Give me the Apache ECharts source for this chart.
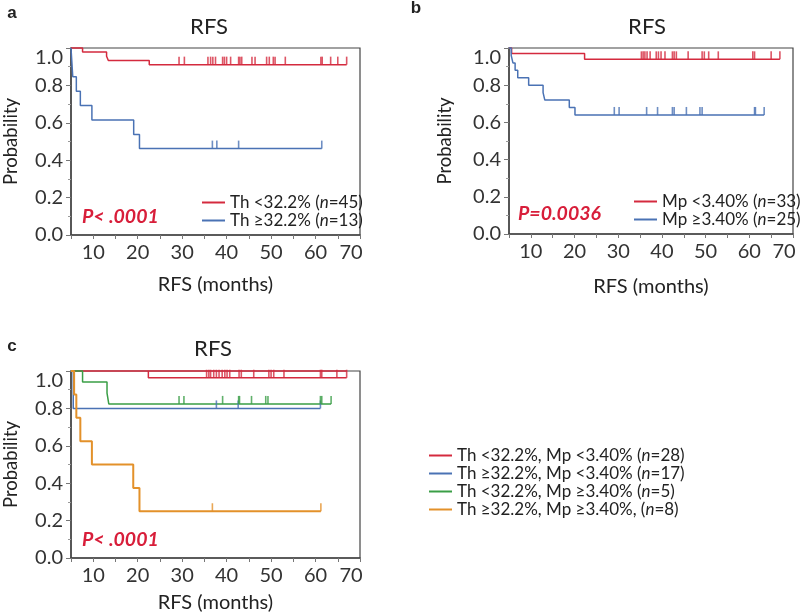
<!DOCTYPE html>
<html><head><meta charset="utf-8">
<script src="https://cdn.jsdelivr.net/npm/echarts@6/dist/echarts.min.js"></script>
<style>html,body{margin:0;padding:0;background:#fff}#c{width:800px;height:615px}</style>
</head><body><div id="c"></div>
<script>
// ---------- DATA ----------
const yTicks = [0, 0.2, 0.4, 0.6, 0.8, 1.0];
const xTickLabels = [10, 20, 30, 40, 50, 60, 70];

// Panel a: Th groups
const aNames = ['Th <32.2% (n=45)', 'Th \u226532.2% (n=13)'];
const aLowT = [5, 7.6, 13.0, 13.4, 22.6, 67.0];
const aLowS = [1, 0.978, 0.956, 0.933, 0.911, 0.911];
const aLowCens = [29.3, 30.5, 35.8, 36.4, 36.9, 37.5, 39.1, 39.5, 40.0, 40.9, 42.7, 43.0, 43.4, 45.7, 46.4, 49.0, 49.6, 50.5, 50.9, 53.2, 61.2, 61.5, 63.4, 65.0, 67.0];
const aHighT = [5, 5.4, 6.2, 7.1, 9.7, 19.1, 20.4, 61.4];
const aHighS = [1, 0.846, 0.769, 0.692, 0.615, 0.538, 0.462, 0.462];
const aHighCens = [36.8, 37.8, 42.7, 61.4];

// Panel b: Mp groups
const bNames = ['Mp <3.40% (n=33)', 'Mp \u22653.40% (n=25)'];
const bLowT = [5, 5.6, 22.3, 67.0];
const bLowS = [1, 0.970, 0.939, 0.939];
const bLowCens = [35.3, 35.7, 36.1, 36.6, 37.3, 38.7, 39.2, 39.8, 40.7, 42.4, 42.8, 43.3, 46.0, 49.2, 49.7, 50.7, 52.9, 60.8, 61.2, 65.0, 67.0];
const bHighT = [5, 5.5, 5.9, 6.4, 7.0, 9.5, 12.8, 13.2, 18.8, 20.1, 63.4];
const bHighS = [1, 0.96, 0.92, 0.88, 0.84, 0.80, 0.76, 0.72, 0.68, 0.64, 0.64];
const bHighCens = [29.1, 30.2, 36.5, 39.0, 42.4, 42.8, 45.6, 48.7, 49.2, 61.2, 61.4, 63.4];

// Panel c: combined groups
const cNames = ['Th <32.2%, Mp <3.40% (n=28)', 'Th \u226532.2%, Mp <3.40% (n=17)', 'Th <32.2%, Mp \u22653.40% (n=5)', 'Th \u226532.2%, Mp \u22653.40%, (n=8)'];
const cRedT = [5, 22.4, 67.0];
const cRedS = [1, 0.964, 0.964];
const cRedTopT = [22.4, 67.0];
const cRedTopS = [1, 1];
const cRedCens = [35.5, 36.0, 36.4, 37.1, 37.7, 38.3, 39.0, 39.6, 40.1, 40.7, 42.8, 43.3, 46.1, 49.5, 50.0, 50.6, 52.9, 61.1, 61.4, 64.8, 67.0];
const cBlueT = [5, 5.5, 61.1];
const cBlueS = [1, 0.8, 0.8];
const cBlueCens = [37.7, 42.6, 61.1];
const cGreenT = [5, 7.6, 13.1, 13.5, 63.5];
const cGreenS = [1, 0.941, 0.882, 0.824, 0.824];
const cGreenCens = [29.3, 30.4, 39.1, 42.7, 42.9, 45.6, 48.8, 49.3, 61.1, 61.4, 63.5];
const cOrangeT = [5, 5.7, 6.2, 7.1, 9.7, 19.0, 20.4, 61.2];
const cOrangeS = [1, 0.875, 0.75, 0.625, 0.5, 0.375, 0.25, 0.25];
const cOrangeCens = [36.8, 61.2];

const pTexts = ['P< .0001', 'P=0.0036', 'P< .0001'];

// ---------- STYLE ----------
const FONT = 'Lato, "Open Sans", sans-serif';
const RED = '#d42a3e', BLUE = '#4a72b4', GREEN = '#3a9e46', ORANGE = '#e3912a', PRED = '#d81e3a';
const TXT = '#222';

function survAt(T, S, t) {
  let v = S[0];
  for (let i = 0; i < T.length; i++) { if (T[i] <= t + 1e-9) v = S[i]; }
  return v;
}
function km(name, T, S, color, gi, lw) {
  return { type: 'line', name: name, xAxisIndex: gi, yAxisIndex: gi,
    data: T.map((t, i) => [t, S[i]]), step: 'end', symbol: 'none', showSymbol: false,
    lineStyle: { color: color, width: lw || 1.5 }, itemStyle: { color: color },
    clip: false, animation: false, z: 3 };
}
function cens(T, S, C, color, gi) {
  return { type: 'scatter', xAxisIndex: gi, yAxisIndex: gi,
    data: C.map(t => [t, survAt(T, S, t)]), symbol: 'rect', symbolSize: [1.6, 8], symbolOffset: [0, -4],
    itemStyle: { color: color }, silent: true, clip: false, animation: false, z: 3 };
}

const grids = [
  { left: 71, top: 48, width: 289, height: 187 },
  { left: 509, top: 48, width: 284, height: 186 },
  { left: 71, top: 371, width: 289, height: 187 }
];
const yGaps = [50, 54, 50];
const xGaps = [40, 43, 35];

function xAxis(i) {
  return { type: 'value', gridIndex: i, min: 5, max: 70, interval: 5,
    name: 'RFS (months)', nameLocation: 'middle', nameGap: xGaps[i],
    nameTextStyle: { fontFamily: FONT, fontSize: 20, color: TXT },
    axisLine: { show: true, lineStyle: { color: '#444', width: 1.5 } },
    axisTick: { show: true, length: 4, lineStyle: { color: '#777' } },
    splitLine: { show: false },
    axisLabel: { margin: 8, fontFamily: FONT, fontSize: 20, color: '#333',
      formatter: v => xTickLabels.indexOf(v) < 0 ? '' : (v === 70 ? '{last|70}' : String(v)),
      rich: { last: { fontFamily: FONT, fontSize: 20, color: '#333', padding: [0, 18, 0, 0] } } } };
}
function yAxis(i) {
  return { type: 'value', gridIndex: i, min: 0, max: 1, interval: 0.2,
    name: 'Probability', nameLocation: 'middle', nameGap: yGaps[i],
    nameTextStyle: { fontFamily: FONT, fontSize: 18.5, color: TXT },
    axisLine: { show: true, lineStyle: { color: '#444', width: 1.5 } },
    axisTick: { show: true, length: 5, lineStyle: { color: '#777' } },
    minorTick: { show: true, splitNumber: 2, length: 3, lineStyle: { color: '#999' } },
    splitLine: { show: false },
    axisLabel: { margin: 8, fontFamily: FONT, fontSize: 20, color: '#333',
      formatter: v => { const s = v.toFixed(1); return Math.abs(v - 1) < 1e-9 ? '{top|' + s + '}' : s; },
      rich: { top: { fontFamily: FONT, fontSize: 20, color: '#333', padding: [20, 0, 0, 0] } } } };
}

function legend(names, left, top) {
  return { data: names, left: left, top: top, orient: 'vertical', icon: 'rect',
    itemWidth: 23, itemHeight: 2, itemGap: 1, selectedMode: false, padding: 0,
    formatter: n => n.replace('n=', '{i|n}='),
    textStyle: { fontFamily: FONT, fontSize: 17, color: TXT,
      rich: { i: { fontFamily: FONT, fontSize: 17, color: TXT, fontStyle: 'italic' } } } };
}

const series = [
  km(aNames[0], aLowT, aLowS, RED, 0), cens(aLowT, aLowS, aLowCens, RED, 0),
  km(aNames[1], aHighT, aHighS, BLUE, 0), cens(aHighT, aHighS, aHighCens, BLUE, 0),
  km(bNames[0], bLowT, bLowS, RED, 1), cens(bLowT, bLowS, bLowCens, RED, 1),
  km(bNames[1], bHighT, bHighS, BLUE, 1), cens(bHighT, bHighS, bHighCens, BLUE, 1),
  km(cNames[0], cRedT, cRedS, RED, 2), cens(cRedT, cRedS, cRedCens, RED, 2),
  Object.assign(km('cRedTop', cRedTopT, cRedTopS, RED, 2), { step: false }),
  km(cNames[1], cBlueT, cBlueS, BLUE, 2), cens(cBlueT, cBlueS, cBlueCens, BLUE, 2),
  km(cNames[2], cGreenT, cGreenS, GREEN, 2), cens(cGreenT, cGreenS, cGreenCens, GREEN, 2),
  km(cNames[3], cOrangeT, cOrangeS, ORANGE, 2, 2), cens(cOrangeT, cOrangeS, cOrangeCens, ORANGE, 2)
];

function txt(x, y, text, size, opts) {
  return { type: 'text', x: x, y: y, z: 10, style: Object.assign({ text: text, fontFamily: FONT, fontSize: size,
    fill: TXT, textAlign: 'center', textVerticalAlign: 'middle' }, opts || {}) };
}

const chart = echarts.init(document.getElementById('c'), null, { renderer: 'canvas' });
chart.setOption({
  animation: false,
  backgroundColor: '#fff',
  grid: grids.map(g => Object.assign({ show: true, borderColor: '#444', borderWidth: 1.2, backgroundColor: 'transparent' }, g)),
  xAxis: [0, 1, 2].map(xAxis),
  yAxis: [0, 1, 2].map(yAxis),
  legend: [legend(aNames, 202, 194), legend(bNames, 634, 193), legend(cNames, 429, 447)],
  graphic: [
    txt(12, 13, 'a', 17, { fontFamily: 'Arial, "Liberation Sans", sans-serif', fontWeight: 'bold' }),
    txt(416, 8, 'b', 17, { fontFamily: 'Arial, "Liberation Sans", sans-serif', fontWeight: 'bold' }),
    txt(12, 346, 'c', 17, { fontFamily: 'Arial, "Liberation Sans", sans-serif', fontWeight: 'bold' }),
    txt(209, 27, 'RFS', 22),
    txt(647, 27, 'RFS', 22),
    txt(213, 349, 'RFS', 22),
    txt(82, 217, pTexts[0], 19.5, { textAlign: 'left', fill: PRED, fontWeight: 'bold', fontStyle: 'italic' }),
    txt(518, 214, pTexts[1], 19.5, { textAlign: 'left', fill: PRED, fontWeight: 'bold', fontStyle: 'italic' }),
    txt(82, 540, pTexts[2], 19.5, { textAlign: 'left', fill: PRED, fontWeight: 'bold', fontStyle: 'italic' })
  ],
  series: series
});
</script></body></html>
